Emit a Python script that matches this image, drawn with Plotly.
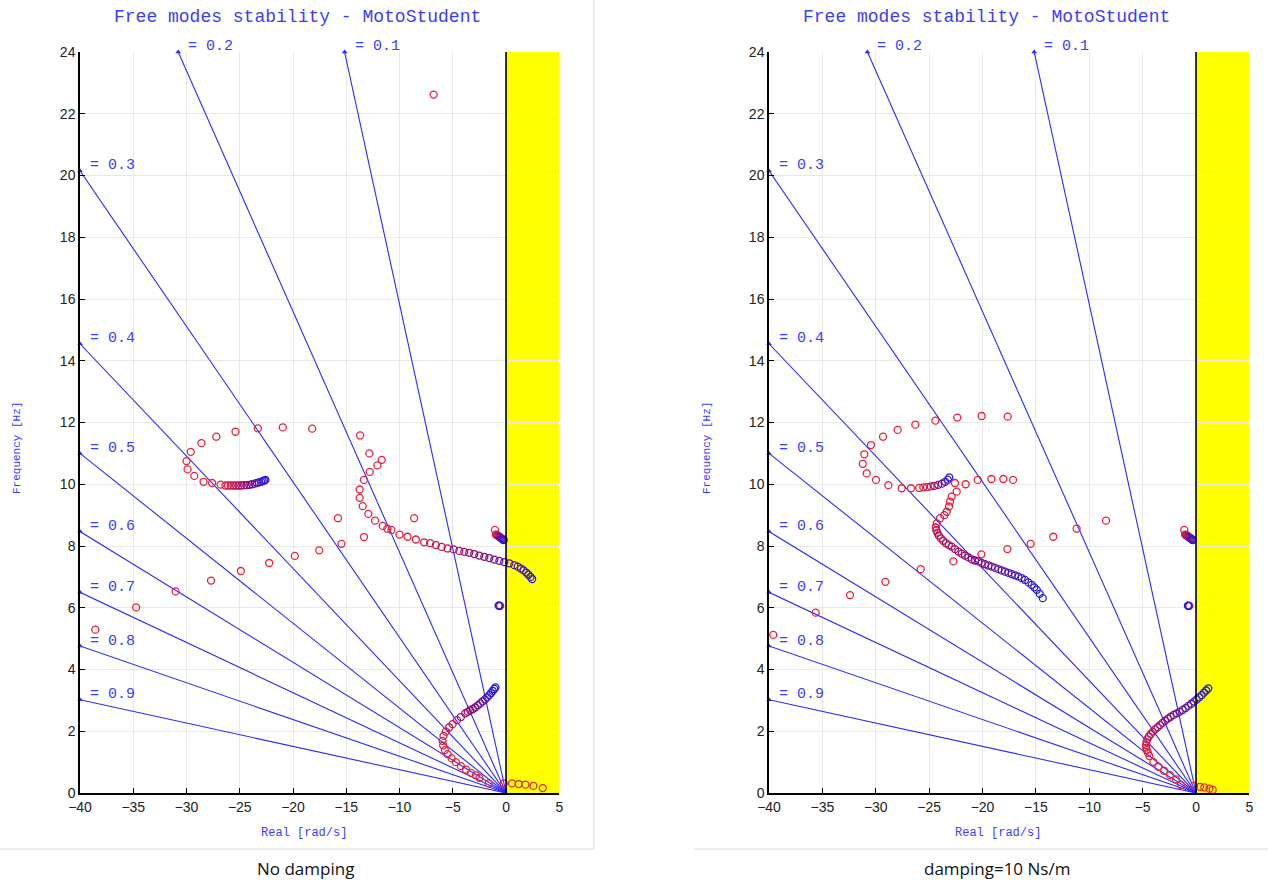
import plotly.graph_objects as go

# ---------------- data ----------------
x_ticks = [-40, -35, -30, -25, -20, -15, -10, -5, 0, 5]
y_ticks = [0, 2, 4, 6, 8, 10, 12, 14, 16, 18, 20, 22, 24]

zeta_values = [0.1, 0.2, 0.3, 0.4, 0.5, 0.6, 0.7, 0.8, 0.9]
zeta_end_real = [-15.16, -30.78, -40, -40, -40, -40, -40, -40, -40]
zeta_end_freq = [24, 24, 20.15, 14.55, 11.0, 8.47, 6.5, 4.76, 3.02]

titles = ["No damping", "damping=10 Ns/m"]

# ---- No damping ----
nd_sparse_x = [-38.56, -34.73, -31.03, -27.7, -24.9, -22.24, -19.83, -17.54, -15.45, -13.34,
               -15.78, -8.63, -6.8]
nd_sparse_y = [5.29, 6.01, 6.53, 6.88, 7.19, 7.45, 7.68, 7.86, 8.07, 8.29,
               8.9, 8.9, 22.62]

nd_arc_x = [-12.83, -13.7, -18.2, -20.96, -23.3, -25.4, -27.2, -28.6, -29.6, -30.0, -29.9, -29.27,
            -28.4, -27.6, -26.8, -26.35, -26.1, -25.85, -25.6, -25.35, -25.1, -24.85, -24.6, -24.35,
            -24.1, -23.85, -23.6, -23.4, -23.2, -23.0, -22.85, -22.7, -22.59]
nd_arc_y = [11.0, 11.58, 11.8, 11.84, 11.81, 11.7, 11.54, 11.33, 11.05, 10.75, 10.48, 10.27,
            10.08, 10.04, 9.99, 9.96, 9.96, 9.96, 9.96, 9.96, 9.96, 9.96, 9.97, 9.97,
            9.98, 10.0, 10.02, 10.04, 10.06, 10.08, 10.1, 10.12, 10.14]

nd_low_x = [-11.67, -12.08, -12.8, -13.34, -13.74, -13.74, -13.46, -12.93, -12.3, -11.58, -11.14,
            -10.76, -10.0, -9.25, -8.47, -7.69, -7.12, -6.59, -6.05, -5.49, -4.92, -4.39, -3.92,
            -3.45, -2.98, -2.51, -2.04, -1.57, -1.1, -0.63, -0.16, 0.31, 0.78, 1.1, 1.4, 1.65,
            1.9, 2.1, 2.3, 2.45]
nd_low_y = [10.79, 10.61, 10.4, 10.14, 9.83, 9.56, 9.29, 9.04, 8.82, 8.65, 8.56,
            8.52, 8.37, 8.3, 8.21, 8.12, 8.09, 8.03, 7.97, 7.92, 7.89, 7.84, 7.81,
            7.78, 7.74, 7.69, 7.65, 7.61, 7.56, 7.52, 7.48, 7.44, 7.38, 7.33, 7.27, 7.21,
            7.14, 7.07, 7.0, 6.93]

nd_c8_x = [-1.04, -0.96, -0.88, -0.8, -0.72, -0.64, -0.56, -0.48, -0.4, -0.32, -0.26, -0.22]
nd_c8_y = [8.52, 8.37, 8.36, 8.34, 8.32, 8.3, 8.28, 8.26, 8.24, 8.22, 8.2, 8.19]

nd_c6_x = [-0.55, -0.6, -0.66, -0.7]
nd_c6_y = [6.06, 6.06, 6.07, 6.07]

nd_s_x = [-1.63, -2.5, -2.82, -3.29, -3.76, -4.24, -4.71, -5.11, -5.49, -5.74, -5.9, -5.96, -5.87,
          -5.65, -5.33, -5.02, -4.61, -4.24, -3.83, -3.6, -3.36, -3.12, -2.89, -2.65, -2.42, -2.2,
          -1.98, -1.78, -1.57, -1.4, -1.25, -1.1, -1.0]
nd_s_y = [0.31, 0.49, 0.57, 0.65, 0.76, 0.87, 1.0, 1.12, 1.26, 1.39, 1.54, 1.69, 1.85,
          1.99, 2.13, 2.23, 2.36, 2.46, 2.58, 2.63, 2.68, 2.72, 2.77, 2.84, 2.9, 2.97,
          3.03, 3.1, 3.17, 3.24, 3.31, 3.37, 3.42]

nd_r_x = [-0.22, 0.56, 1.19, 1.82, 2.57, 3.45]
nd_r_y = [0.31, 0.31, 0.29, 0.27, 0.23, 0.16]

# ---- damping = 10 Ns/m ----
d_sparse_x = [-39.6, -35.63, -32.41, -29.1, -25.79, -22.73, -20.11, -17.67, -15.49, -13.37,
              -11.18, -8.43]
d_sparse_y = [5.12, 5.84, 6.41, 6.84, 7.25, 7.5, 7.73, 7.9, 8.07, 8.3,
              8.56, 8.82]

d_arc_x = [-17.64, -20.08, -22.36, -24.42, -26.29, -27.95, -29.32, -30.45, -31.07, -31.22, -30.85,
           -29.98, -28.82, -27.57, -26.7, -25.92, -25.55, -25.2, -24.85, -24.5, -24.15, -23.8,
           -23.5, -23.25, -23.11]
d_arc_y = [12.19, 12.21, 12.16, 12.06, 11.93, 11.76, 11.54, 11.27, 10.97, 10.66, 10.35,
           10.14, 9.97, 9.87, 9.87, 9.88, 9.9, 9.91, 9.93, 9.95, 9.98, 10.02,
           10.08, 10.15, 10.22]

d_mid_x = [-17.14, -18.05, -19.17, -20.45, -21.58, -22.58, -22.42, -22.89, -23.04, -23.14, -23.35,
           -23.58, -23.98, -24.29, -24.38, -24.33, -24.23, -24.1, -23.91, -23.68, -23.42, -23.16,
           -22.89, -22.58, -22.26, -21.95, -21.64, -21.32, -21.01, -20.7, -20.39, -20.08, -19.77,
           -19.45, -19.14, -18.83, -18.52, -18.2, -17.89, -17.57, -17.26, -16.95, -16.64, -16.33,
           -16.02, -15.7, -15.39, -15.15, -14.92, -14.64, -14.36]
d_mid_y = [10.14, 10.17, 10.17, 10.14, 10.0, 10.04, 9.76, 9.6, 9.44, 9.28, 9.11,
           9.0, 8.9, 8.73, 8.6, 8.51, 8.43, 8.34, 8.25, 8.17, 8.09, 8.03,
           7.98, 7.9, 7.82, 7.75, 7.69, 7.63, 7.57, 7.53, 7.5, 7.45, 7.41,
           7.37, 7.33, 7.29, 7.25, 7.21, 7.17, 7.13, 7.09, 7.05, 7.01, 6.96,
           6.9, 6.82, 6.74, 6.66, 6.58, 6.45, 6.31]

d_c8_x = [-1.1, -1.03, -0.95, -0.87, -0.79, -0.71, -0.63, -0.55, -0.47, -0.4, -0.34, -0.31]
d_c8_y = [8.52, 8.37, 8.36, 8.34, 8.32, 8.3, 8.28, 8.26, 8.24, 8.22, 8.2, 8.19]

d_c6_x = [-0.62, -0.68, -0.72, -0.76]
d_c6_y = [6.06, 6.06, 6.06, 6.07]

d_s_x = [-1.41, -1.87, -2.44, -3.0, -3.53, -4.0, -4.37, -4.5, -4.62, -4.66, -4.68, -4.64, -4.56,
         -4.42, -4.24, -4.05, -3.84, -3.6, -3.37, -3.13, -2.9, -2.63, -2.37, -2.09, -1.81, -1.53,
         -1.25, -0.98, -0.72, -0.45, -0.19, 0.06, 0.31, 0.53, 0.75, 0.95, 1.15]
d_s_y = [0.26, 0.44, 0.58, 0.72, 0.85, 1.01, 1.2, 1.3, 1.39, 1.47, 1.55, 1.65, 1.74,
         1.83, 1.91, 1.99, 2.06, 2.13, 2.2, 2.27, 2.34, 2.41, 2.47, 2.53, 2.58, 2.63,
         2.69, 2.75, 2.82, 2.89, 2.96, 3.03, 3.1, 3.17, 3.25, 3.32, 3.39]

d_r_x = [-0.19, 0.37, 0.78, 1.25, 1.56]
d_r_y = [0.23, 0.2, 0.18, 0.14, 0.1]

# ---------------- drawing ----------------
W, H = 1268, 880
RED = "#e8203c"
BLUE = "#1c1cf0"
CSCALE = [[0, RED], [0.5, "#8a0a78"], [1, BLUE]]
LINE_BLUE = "#2a2aff"
TXT_BLUE = "#3c3cff"
MONO = "Liberation Mono, Courier New, monospace"

panels = [
    dict(xd=[80 / W, 559.3 / W], xa="x", ya="y",
         branches=[(nd_sparse_x, nd_sparse_y, None), (nd_arc_x, nd_arc_y, 15),
                   (nd_low_x, nd_low_y, 12), (nd_c8_x, nd_c8_y, 1), (nd_c6_x, nd_c6_y, 0),
                   (nd_s_x, nd_s_y, 10), (nd_r_x, nd_r_y, None)]),
    dict(xd=[769 / W, 1249.4 / W], xa="x2", ya="y2",
         branches=[(d_sparse_x, d_sparse_y, None), (d_arc_x, d_arc_y, 16),
                   (d_mid_x, d_mid_y, 7), (d_c8_x, d_c8_y, 1), (d_c6_x, d_c6_y, 0),
                   (d_s_x, d_s_y, 8), (d_r_x, d_r_y, None)]),
]


def tvals(n, n_red):
    if n_red is None:
        return [0.0] * n
    m = n - n_red
    return [0.0 if i < n_red else (i - n_red) / max(m - 1, 1) for i in range(n)]


fig = go.Figure()
shapes = []
annotations = []
yd = [1 - 793 / H, 1 - 52 / H]

for k, p in enumerate(panels):
    xa, ya = p["xa"], p["ya"]
    shapes.append(dict(type="rect", xref=xa, yref=ya, x0=0, x1=5, y0=0, y1=24,
                       fillcolor="#ffff00", line=dict(width=0), layer="below"))
    shapes.append(dict(type="line", xref=xa, yref=ya, x0=0, x1=0, y0=0, y1=24,
                       line=dict(color="black", width=1.6), layer="above"))
    for z, ex, ey in zip(zeta_values, zeta_end_real, zeta_end_freq):
        fig.add_trace(go.Scatter(x=[0, ex], y=[0, ey], mode="lines",
                                 line=dict(color=LINE_BLUE, width=1.1),
                                 xaxis=xa, yaxis=ya, showlegend=False, hoverinfo="skip"))
        annotations.append(dict(x=ex, y=ey, xref=xa, yref=ya, text="= %.1f" % z,
                                showarrow=False, xanchor="left", yanchor="middle",
                                xshift=8, yshift=5,
                                font=dict(family=MONO, size=15, color=TXT_BLUE)))
    fig.add_trace(go.Scatter(x=zeta_end_real, y=zeta_end_freq, mode="markers",
                             marker=dict(symbol="triangle-up", size=5, color=LINE_BLUE),
                             xaxis=xa, yaxis=ya, showlegend=False, hoverinfo="skip",
                             cliponaxis=False))
    for bx, by, nred in p["branches"]:
        fig.add_trace(go.Scatter(
            x=bx, y=by, mode="markers", xaxis=xa, yaxis=ya, showlegend=False,
            marker=dict(symbol="circle-open", size=7, color=tvals(len(bx), nred),
                        colorscale=CSCALE, cmin=0, cmax=1, showscale=False,
                        line=dict(width=1.3)),
            hoverinfo="skip"))

    annotations.append(dict(x=(297 + k * 689) / W, y=1 - 17 / H, xref="paper", yref="paper",
                            text="Free modes stability - MotoStudent", showarrow=False,
                            xanchor="center", yanchor="middle",
                            font=dict(family=MONO, size=18, color=TXT_BLUE)))
    annotations.append(dict(x=(304 + k * 694) / W, y=1 - 833 / H, xref="paper", yref="paper",
                            text="Real [rad/s]", showarrow=False,
                            xanchor="center", yanchor="middle",
                            font=dict(family=MONO, size=12, color=TXT_BLUE)))
    annotations.append(dict(x=(17 + k * 690) / W, y=1 - 448 / H, xref="paper", yref="paper",
                            text="Frequency [Hz]", showarrow=False, textangle=-90,
                            xanchor="center", yanchor="middle",
                            font=dict(family=MONO, size=11, color=TXT_BLUE)))
    annotations.append(dict(x=(305 + k * 692) / W, y=1 - 868 / H, xref="paper", yref="paper",
                            text=titles[k], showarrow=False,
                            xanchor="center", yanchor="middle",
                            font=dict(family="Open Sans, Noto Sans, sans-serif", size=17,
                                      color="#111111")))

shapes.append(dict(type="line", xref="paper", yref="paper", x0=594 / W, x1=594 / W,
                   y0=1 - 849 / H, y1=1, line=dict(color="#ececec", width=2)))
shapes.append(dict(type="line", xref="paper", yref="paper", x0=0, x1=594 / W,
                   y0=1 - 849 / H, y1=1 - 849 / H, line=dict(color="#ececec", width=2)))
shapes.append(dict(type="line", xref="paper", yref="paper", x0=694 / W, x1=1,
                   y0=1 - 849 / H, y1=1 - 849 / H, line=dict(color="#ececec", width=2)))

axis_common = dict(showgrid=True, gridcolor="#e8e8e8", gridwidth=1, zeroline=False,
                   showline=True, linecolor="black", linewidth=1.5, ticks="inside",
                   ticklen=5, tickcolor="black", mirror=False, automargin=False,
                   tickfont=dict(family="Liberation Sans, Arial, sans-serif", size=14,
                                 color="#222222"))

fig.update_layout(
    width=W, height=H, autosize=False,
    margin=dict(l=0, r=0, t=0, b=0, pad=0, autoexpand=False),
    paper_bgcolor="white", plot_bgcolor="white",
    xaxis=dict(domain=panels[0]["xd"], range=[-40, 5], tickvals=x_ticks, anchor="y",
               **axis_common),
    yaxis=dict(domain=yd, range=[0, 24], tickvals=y_ticks, anchor="x", **axis_common),
    xaxis2=dict(domain=panels[1]["xd"], range=[-40, 5], tickvals=x_ticks, anchor="y2",
                **axis_common),
    yaxis2=dict(domain=yd, range=[0, 24], tickvals=y_ticks, anchor="x2", **axis_common),
    shapes=shapes,
    annotations=annotations,
)

fig.write_html("out.html")
